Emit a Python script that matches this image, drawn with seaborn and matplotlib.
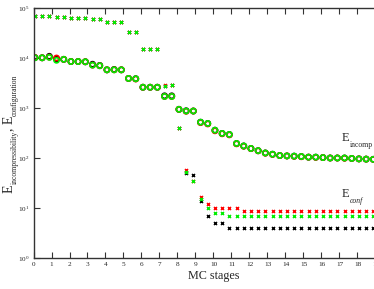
import matplotlib
matplotlib.use("Agg")
import matplotlib.pyplot as plt
import numpy as np
import pandas as pd
import seaborn as sns

# MC stage positions of the 48 recorded configurations
stages = [0.08, 0.48, 0.88, 1.28, 1.68, 2.08, 2.48, 2.88, 3.28, 3.68,
          4.08, 4.48, 4.88, 5.28, 5.68, 6.08, 6.48, 6.88, 7.28, 7.68,
          8.08, 8.48, 8.88, 9.28, 9.68, 10.08, 10.48, 10.88, 11.28, 11.68,
          12.08, 12.48, 12.88, 13.28, 13.68, 14.08, 14.48, 14.88, 15.28, 15.68,
          16.08, 16.48, 16.88, 17.28, 17.68, 18.08, 18.48, 18.88]

# incompressibility energy, three runs
incomp_black = [1.02e4, 1.01e4, 1.08e4, 9.6e3, 9.4e3, 8.5e3, 8.5e3, 8.4e3, 7.5e3, 7.1e3,
                5.8e3, 5.9e3, 5.8e3, 3.9e3, 3.85e3, 2.6e3, 2.6e3, 2.6e3, 1.75e3, 1.75e3,
                940, 880, 870, 520, 490, 360, 310, 295, 195, 174,
                155, 140, 126, 119, 112, 110, 109, 107, 104, 104,
                102, 100, 100, 100, 98, 96, 95, 94]
incomp_red = [1.02e4, 1.01e4, 1.04e4, 1.0e4, 9.4e3, 8.5e3, 8.5e3, 8.4e3, 7.2e3, 7.0e3,
              5.8e3, 5.8e3, 5.8e3, 3.9e3, 3.8e3, 2.6e3, 2.6e3, 2.6e3, 1.7e3, 1.7e3,
              940, 860, 870, 510, 480, 350, 305, 290, 192, 172,
              154, 139, 125, 118, 112, 110, 108, 106, 104, 103,
              102, 100, 100, 99, 98, 96, 95, 94]
incomp_green = [1.01e4, 1.01e4, 1.03e4, 9.0e3, 9.4e3, 8.5e3, 8.5e3, 8.4e3, 7.2e3, 7.0e3,
                5.8e3, 5.8e3, 5.8e3, 3.9e3, 3.85e3, 2.6e3, 2.6e3, 2.6e3, 1.7e3, 1.7e3,
                940, 870, 870, 520, 490, 360, 310, 295, 195, 174,
                155, 140, 126, 119, 112, 110, 109, 107, 104, 104,
                102, 100, 100, 100, 98, 96, 95, 94]

# configuration energy, three runs
conf_black = [6.8e4, 6.8e4, 6.8e4, 6.6e4, 6.6e4, 6.3e4, 6.3e4, 6.4e4, 5.9e4, 6.0e4,
              5.2e4, 5.2e4, 5.2e4, 3.3e4, 3.3e4, 1.54e4, 1.54e4, 1.54e4, 2.8e3, 2.85e3,
              400, 50, 45, 14, 6.9, 4.9, 4.9, 3.9, 3.9, 3.9,
              3.9, 3.9, 3.9, 3.9, 3.9, 3.9, 3.9, 3.9, 3.9, 3.9,
              3.9, 3.9, 3.9, 3.9, 3.9, 3.9, 3.9, 3.9]
conf_red = [6.8e4, 6.8e4, 6.8e4, 6.6e4, 6.6e4, 6.3e4, 6.3e4, 6.4e4, 5.9e4, 6.0e4,
            5.2e4, 5.2e4, 5.2e4, 3.3e4, 3.3e4, 1.54e4, 1.54e4, 1.54e4, 2.9e3, 2.9e3,
            390, 58, 34, 16.5, 11.8, 9.8, 9.8, 9.8, 9.8, 8.8,
            8.8, 8.8, 8.8, 8.8, 8.8, 8.8, 8.8, 8.8, 8.8, 8.8,
            8.8, 8.8, 8.8, 8.8, 8.8, 8.8, 8.8, 8.8]
conf_green = [6.8e4, 6.8e4, 6.8e4, 6.6e4, 6.6e4, 6.3e4, 6.3e4, 6.4e4, 5.9e4, 6.0e4,
              5.2e4, 5.2e4, 5.2e4, 3.3e4, 3.3e4, 1.54e4, 1.54e4, 1.54e4, 2.8e3, 2.85e3,
              400, 53, 35, 15, 9.8, 8.0, 8.0, 6.9, 6.9, 6.9,
              6.9, 6.9, 6.9, 6.9, 6.9, 6.9, 6.9, 6.9, 6.9, 6.9,
              6.9, 6.9, 6.9, 6.9, 6.9, 6.9, 6.9, 6.9]

run_colors = {"black": "#000000", "red": "#ff0000", "green": "#00ee00"}

MAIN_FS = 9
SUB_FS = 5.5


def sub_text(ax, x, y, parts, rotation=0, transform=None, sub_shift=1.5):
    """Draw Grace-style text: big letters with small, lowered subscripts.
    parts = [(text, is_sub, style), ...], first part must be main text."""
    fs0 = MAIN_FS if rotation == 0 else MAIN_FS + 1
    first = ax.text(x, y, parts[0][0], fontsize=fs0, rotation=rotation,
                    rotation_mode="anchor", ha="left", va="baseline",
                    transform=transform if transform is not None else ax.transData,
                    clip_on=False)
    prev = first
    for txt, is_sub, style in parts[1:]:
        fs = SUB_FS if is_sub else fs0
        if rotation == 0:
            xy = (1, 0)
            coords = (prev, first)
            off = (0, sub_shift if is_sub else 0)
        else:
            xy = (1, 1)
            coords = (first, prev)
            off = (-sub_shift if is_sub else 0, 0)
        prev = ax.annotate(txt, xy=xy, xycoords=coords, xytext=off,
                           textcoords="offset points", fontsize=fs,
                           fontstyle=style,
                           rotation=rotation, rotation_mode="anchor",
                           ha="left", va="top" if is_sub else "bottom",
                           annotation_clip=False)
    return first


sns.set_theme(style="ticks")
plt.rcParams["font.family"] = ["Liberation Serif", "DejaVu Serif"]
plt.rcParams["mathtext.fontset"] = "custom"
plt.rcParams["mathtext.rm"] = "Liberation Serif"
plt.rcParams["mathtext.it"] = "Liberation Serif:italic"

fig = plt.figure(figsize=(3.74, 2.89), dpi=100)
# axis runs 0..20, right part falls outside the picture
ax = fig.add_axes([33.5 / 374, 31 / 289, 360 / 374, 250 / 289])

conf = {"black": conf_black, "red": conf_red, "green": conf_green}
incomp = {"black": incomp_black, "red": incomp_red, "green": incomp_green}

for run in ["black", "red", "green"]:
    c = run_colors[run]
    df_c = pd.DataFrame({"stage": stages, "energy": conf[run]})
    sns.scatterplot(data=df_c, x="stage", y="energy", ax=ax, marker="x",
                    color=c, s=5, linewidth=1.0, legend=False)
    df_i = pd.DataFrame({"stage": stages, "energy": incomp[run]})
    sns.scatterplot(data=df_i, x="stage", y="energy", ax=ax, marker="o",
                    facecolor="none", edgecolor=c, s=14, linewidth=1.2,
                    legend=False)

ax.set_yscale("log")
ax.set_xlim(0, 20)
ax.set_ylim(1, 1e5)
ax.set_xticks(range(0, 21))
ax.set_yticks([1, 10, 100, 1e3, 1e4, 1e5])
ax.minorticks_off()
ax.tick_params(direction="in", top=True, right=True, length=4, width=0.8,
               labelsize=5.2, pad=3, color="#333333")
for sp in ax.spines.values():
    sp.set_linewidth(1.0)
    sp.set_color("#333333")

ax.set_xlabel("MC stages", fontsize=8.7)
ax.xaxis.set_label_coords(0.5, -0.047)
ax.set_ylabel("")

# y label built from pieces (small subscripts as in the original)
sub_text(ax, 12.3 / 374, 96 / 289,
         [("E", False, "normal"), ("incompressibility", True, "normal"),
          (", E", False, "normal"), ("configuration", True, "normal")],
         rotation=90, transform=fig.transFigure, sub_shift=3.0)

sub_text(ax, 17.14, 219, [("E", False, "normal"), ("incomp", True, "normal")],
         sub_shift=2.2)
sub_text(ax, 17.14, 16.3, [("E", False, "normal"), ("conf", True, "italic")],
         sub_shift=2.2)

fig.savefig("out.png", dpi=100)
